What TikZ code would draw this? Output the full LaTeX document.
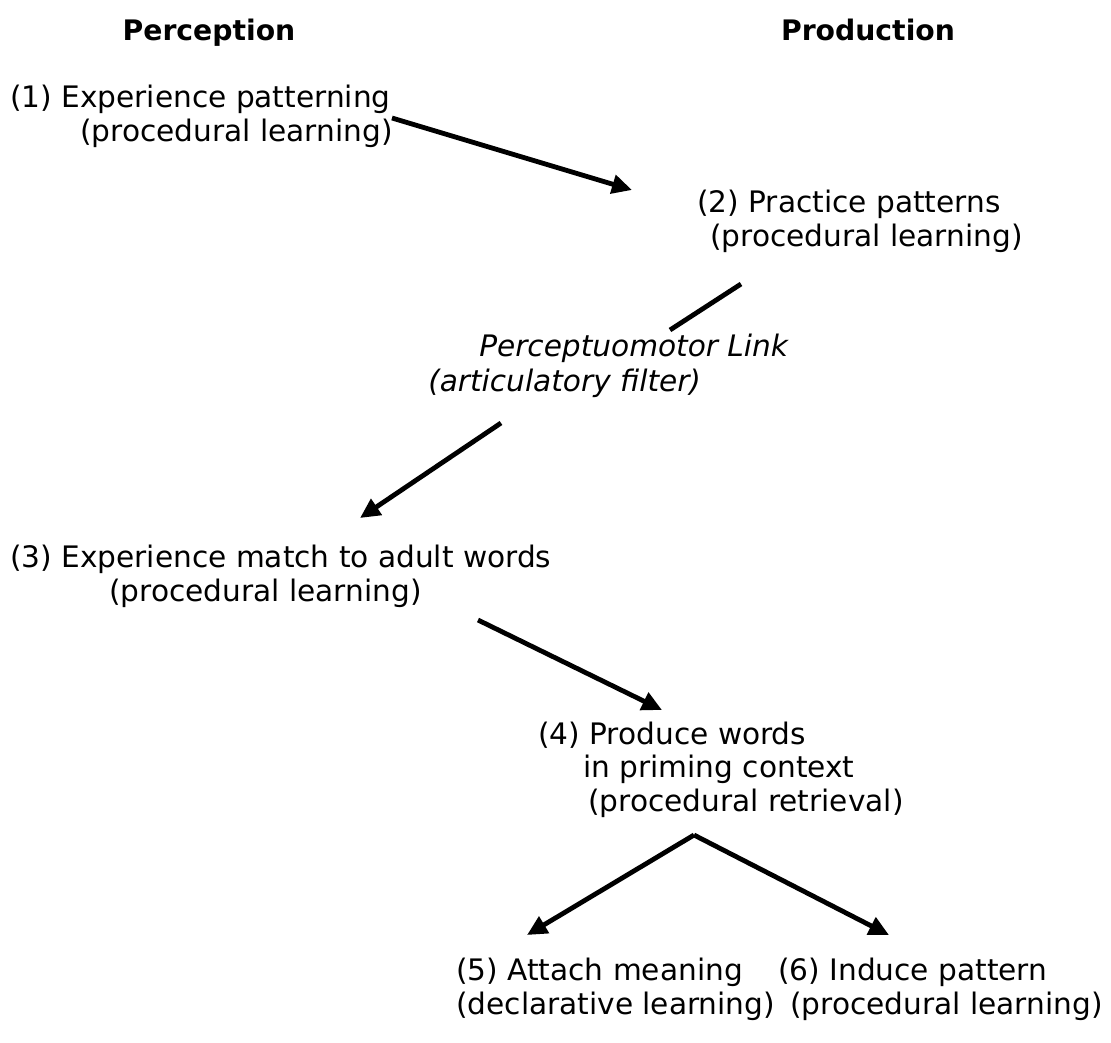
\documentclass[tikz,border=0pt]{standalone}
\usepackage{fontspec}
\setmainfont{DejaVu Sans}
\usetikzlibrary{arrows.meta, positioning}

\begin{document}
\begin{tikzpicture}[x=0.75pt, y=-0.75pt,
    every node/.style={font=\fontsize{22.2}{26}\selectfont, inner sep=0pt, anchor=base west},
    head/.style={font=\fontsize{21.2}{25}\selectfont\bfseries, anchor=base},
    slant/.style={font=\fontsize{22.2}{26}\selectfont\itshape},
    link/.style={line width=3.6pt},
    flow/.style={link, -{Triangle[length=15pt,width=14pt]}}]
    \useasboundingbox (0,0) rectangle (1111,1043);

    % column headings
    \node[head] (perc) at (209,40) {Perception};
    \node[head] (prod) at (868,40) {Production};

    % stages
    \node (s1a) at (10,107)  {(1) Experience patterning};
    \node (s1b) at (80,141)  {(procedural learning)};
    \node (s2a) at (697,212) {(2) Practice patterns};
    \node (s2b) at (710,246) {(procedural learning)};
    \node[slant] (pma) at (479,356) {Perceptuomotor Link};
    \node[slant] (pmb) at (428,391) {(articulatory filter)};
    \node (s3a) at (10,567)  {(3) Experience match to adult words};
    \node (s3b) at (109,601) {(procedural learning)};
    \node (s4a) at (538,744) {(4) Produce words};
    \node (s4b) at (583,777) {in priming context};
    \node (s4c) at (588,811) {(procedural retrieval)};
    \node (s5a) at (456,980) {(5) Attach meaning};
    \node (s5b) at (456,1014) {(declarative learning)};
    \node (s6a) at (778,980) {(6) Induce pattern};
    \node (s6b) at (790,1014) {(procedural learning)};

    % arrow ends
    \coordinate (a1) at (392,118);
    \coordinate (a2) at (632,190);
    \coordinate (b1) at (741,284);
    \coordinate (b2) at (670,330);
    \coordinate (c1) at (501,423);
    \coordinate (c2) at (360,518);
    \coordinate (d1) at (478,620);
    \coordinate (d2) at (662,710);
    \coordinate (top) at (694,835);
    \coordinate (e1) at (527,935);
    \coordinate (e2) at (889,935);

    \draw[flow] (a1) -- (a2);
    \draw[link] (b1) -- (b2);
    \draw[flow] (c1) -- (c2);
    \draw[flow] (d1) -- (d2);
    \draw[flow] (top) -- (e1);
    \draw[flow] (top) -- (e2);
\end{tikzpicture}
\end{document}
